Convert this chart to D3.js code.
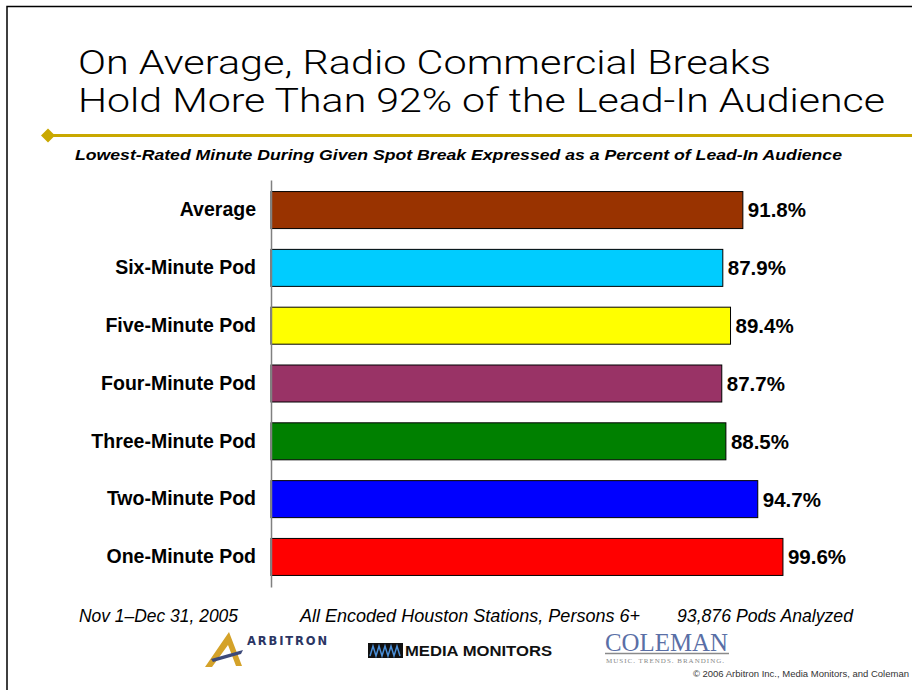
<!DOCTYPE html>
<html>
<head>
<meta charset="utf-8">
<script src="https://cdn.jsdelivr.net/npm/d3@7"></script>
<style>
  body { margin: 0; background: #fff; }
  svg { display: block; }
</style>
</head>
<body>
<div id="chart"></div>
<script>
// chart data
var categories = ["Average", "Six-Minute Pod", "Five-Minute Pod", "Four-Minute Pod",
                  "Three-Minute Pod", "Two-Minute Pod", "One-Minute Pod"];
var values = [91.8, 87.9, 89.4, 87.7, 88.5, 94.7, 99.6];
var barColors = ["#993300", "#00CCFF", "#FFFF00", "#993366", "#008000", "#0000FF", "#FF0000"];
var footNotes = ["Nov 1\u2013Dec 31, 2005", "All Encoded Houston Stations, Persons 6+", "93,876 Pods Analyzed"];

var svgWidth = 912;
var svgHeight = 690;

var svg = d3.select("#chart")
  .append("svg")
  .attr("width", svgWidth)
  .attr("height", svgHeight);

// slide frame
svg.append("path")
  .attr("d", "M7,690 L7,6.5 L912,6.5")
  .attr("fill", "none")
  .attr("stroke", "#000")
  .attr("stroke-width", 1.5);

// title
var title = svg.append("g")
  .attr("font-family", "Roboto, 'Open Sans', 'DejaVu Sans', sans-serif")
  .attr("font-weight", 300)
  .attr("font-size", 34)
  .attr("fill", "#000");
title.append("text").attr("x", 78).attr("y", 74)
  .attr("textLength", 693).attr("lengthAdjust", "spacingAndGlyphs")
  .text("On Average, Radio Commercial Breaks");
title.append("text").attr("x", 78).attr("y", 112)
  .attr("textLength", 807).attr("lengthAdjust", "spacingAndGlyphs")
  .text("Hold More Than 92% of the Lead-In Audience");

// gold rule with diamond
svg.append("line")
  .attr("x1", 48).attr("x2", 912)
  .attr("y1", 135.5).attr("y2", 135.5)
  .attr("stroke", "#C9A800")
  .attr("stroke-width", 3);
svg.append("path")
  .attr("d", "M41,135.5 L48,128.5 L55,135.5 L48,142.5 Z")
  .attr("fill", "#C9A800");

// subtitle
svg.append("text")
  .attr("x", 75).attr("y", 160)
  .attr("font-family", "Arial, 'Liberation Sans', sans-serif")
  .attr("font-size", 15.5)
  .attr("font-weight", "bold")
  .attr("font-style", "italic")
  .attr("textLength", 767).attr("lengthAdjust", "spacingAndGlyphs")
  .text("Lowest-Rated Minute During Given Spot Break Expressed as a Percent of Lead-In Audience");

// scales
var xScale = d3.scaleLinear()
  .domain([0, 100])
  .range([271, 785]);

var yScale = d3.scaleBand()
  .domain(categories)
  .range([180, 587])
  .paddingInner(0.36)
  .paddingOuter(0.2);

// bars
var rows = categories.map(function(c, i) {
  return { cat: c, value: values[i], color: barColors[i] };
});

svg.selectAll(".bar")
  .data(rows)
  .enter()
  .append("rect")
  .attr("class", "bar")
  .attr("x", xScale(0))
  .attr("y", d => yScale(d.cat))
  .attr("width", d => xScale(d.value) - xScale(0))
  .attr("height", yScale.bandwidth())
  .attr("fill", d => d.color)
  .attr("stroke", "#000")
  .attr("stroke-width", 1);

// value labels
svg.selectAll(".val")
  .data(rows)
  .enter()
  .append("text")
  .attr("class", "val")
  .attr("x", d => xScale(d.value) + 5)
  .attr("y", d => yScale(d.cat) + yScale.bandwidth() / 2)
  .attr("dy", "0.36em")
  .attr("font-family", "Arial, 'Liberation Sans', sans-serif")
  .attr("font-size", 20.5)
  .attr("font-weight", "bold")
  .text(d => d.value.toFixed(1) + "%");

// category axis
var leftAxis = d3.axisLeft(yScale).tickSize(0).tickPadding(15);
var axisG = svg.append("g")
  .attr("transform", `translate(${xScale(0)},0)`)
  .call(leftAxis);
axisG.select(".domain").attr("stroke", "#808080").attr("stroke-width", 1.5);
axisG.selectAll("text")
  .attr("font-family", "Arial, 'Liberation Sans', sans-serif")
  .attr("font-size", 19.5)
  .attr("font-weight", "bold")
  .attr("fill", "#000");

// footnotes
var footX = [79, 300, 677];
var footW = [159, 340, 176];
svg.selectAll(".foot")
  .data(footNotes)
  .enter()
  .append("text")
  .attr("class", "foot")
  .attr("x", (d, i) => footX[i])
  .attr("y", 622)
  .attr("font-family", "Arial, 'Liberation Sans', sans-serif")
  .attr("font-size", 19)
  .attr("font-style", "italic")
  .attr("textLength", (d, i) => footW[i])
  .attr("lengthAdjust", "spacingAndGlyphs")
  .text(d => d);

// logos (decorative)
var arb = svg.append("g");
arb.append("path")
  .attr("d", "M205,667 L229,632 L242,666 L236,666 L228,645 L212,667 Z")
  .attr("fill", "#D4A229");
arb.append("path")
  .attr("d", "M211,659 L243,650 L241,654 L213,662 Z")
  .attr("fill", "#3d4a7a");
arb.append("text")
  .attr("x", 247).attr("y", 645)
  .attr("font-family", "Verdana, 'DejaVu Sans', sans-serif")
  .attr("font-size", 11.5).attr("font-weight", "bold")
  .attr("fill", "#2b3563")
  .attr("textLength", 80).attr("lengthAdjust", "spacing")
  .text("ARBITRON");

var mm = svg.append("g");
mm.append("rect").attr("x", 368).attr("y", 643).attr("width", 35).attr("height", 15).attr("fill", "#111");
mm.append("path")
  .attr("d", "M370,656 L373,646 L376,656 L379,646 L382,656 L385,646 L388,656 L391,646 L394,656 L397,646 L400,656")
  .attr("fill", "none").attr("stroke", "#4a8fd8").attr("stroke-width", 1.5);
mm.append("text")
  .attr("x", 405).attr("y", 656)
  .attr("font-family", "Arial, 'Liberation Sans', sans-serif")
  .attr("font-size", 14).attr("font-weight", "bold")
  .attr("fill", "#111")
  .attr("textLength", 147).attr("lengthAdjust", "spacingAndGlyphs")
  .text("MEDIA MONITORS");

var col = svg.append("g");
col.append("text")
  .attr("x", 605).attr("y", 651)
  .attr("font-family", "'Liberation Serif', 'DejaVu Serif', serif")
  .attr("font-size", 25)
  .attr("fill", "#5a6fa6")
  .attr("textLength", 123).attr("lengthAdjust", "spacingAndGlyphs")
  .text("COLEMAN");
col.append("line")
  .attr("x1", 605).attr("x2", 729).attr("y1", 653.5).attr("y2", 653.5)
  .attr("stroke", "#8a8a8a").attr("stroke-width", 1.5);
col.append("text")
  .attr("x", 606).attr("y", 663)
  .attr("font-family", "'Liberation Serif', 'DejaVu Serif', serif")
  .attr("font-size", 7)
  .attr("fill", "#888")
  .attr("textLength", 118).attr("lengthAdjust", "spacing")
  .text("MUSIC.  TRENDS.  BRANDING.");

// copyright
svg.append("text")
  .attr("x", 909).attr("y", 677)
  .attr("text-anchor", "end")
  .attr("font-family", "Arial, 'Liberation Sans', sans-serif")
  .attr("font-size", 9.5)
  .attr("fill", "#333")
  .text("\u00A9 2006 Arbitron Inc., Media Monitors, and Coleman");
</script>
</body>
</html>
